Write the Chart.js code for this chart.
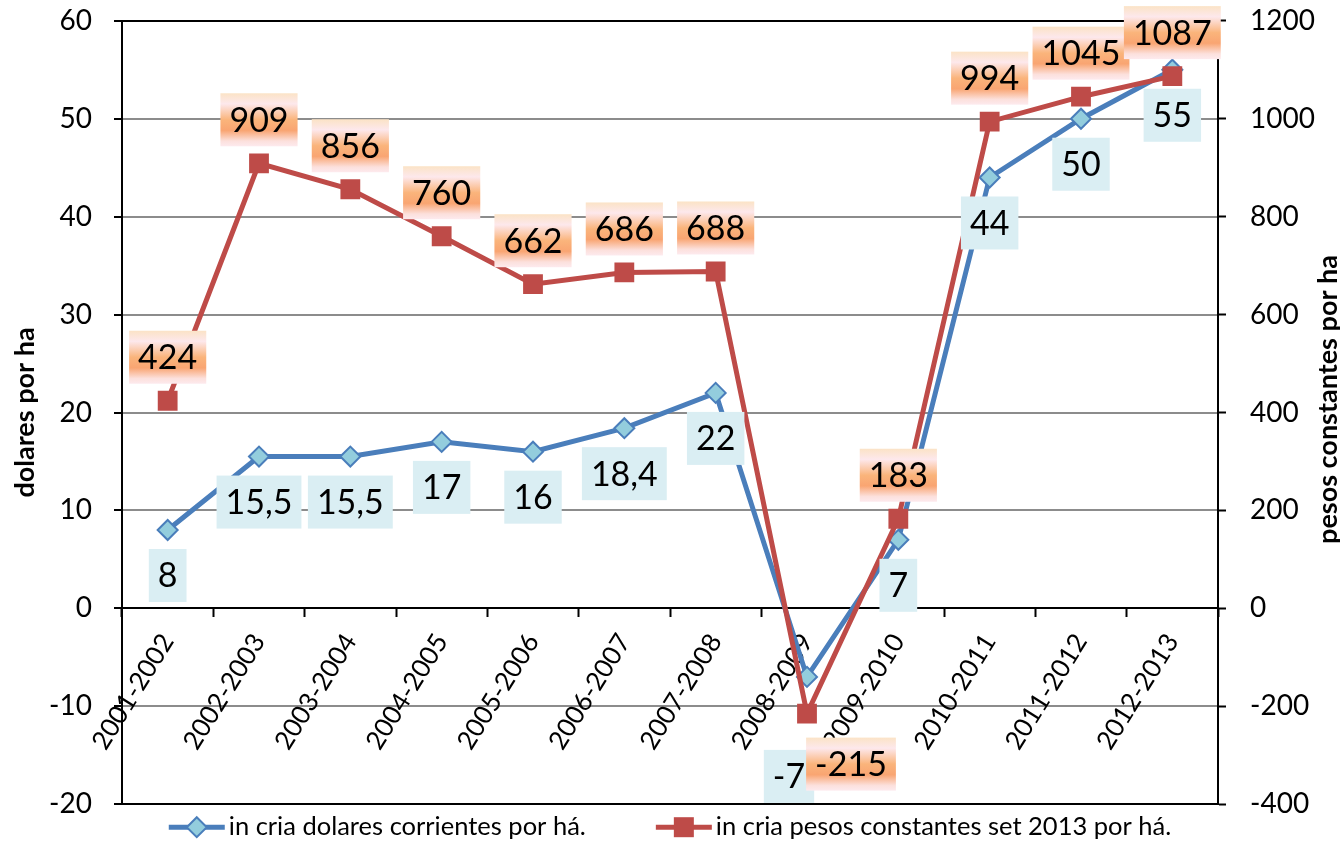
<!DOCTYPE html>
<html>
<head>
<meta charset="utf-8">
<script src="https://cdn.jsdelivr.net/npm/chart.js@4.4.1/dist/chart.umd.min.js"></script>
<style>
  html, body { margin: 0; padding: 0; background: #fff; overflow: hidden; }
  #grafico { display: block; margin-top: -20px; }
</style>
</head>
<body>
<canvas id="grafico" width="1340" height="865"></canvas>
<script>
// Datos
const campanas = ['2001-2002', '2002-2003', '2003-2004', '2004-2005', '2005-2006', '2006-2007',
  '2007-2008', '2008-2009', '2009-2010', '2010-2011', '2011-2012', '2012-2013'];
const dolaresHa = [8, 15.5, 15.5, 17, 16, 18.4, 22, -7, 7, 44, 50, 55];
const pesosHa = [424, 909, 856, 760, 662, 686, 688, -215, 183, 994, 1045, 1087];
const ticksDolares = [-20, -10, 0, 10, 20, 30, 40, 50, 60];
const ticksPesos = [-400, -200, 0, 200, 400, 600, 800, 1000, 1200];

const leyendas = ['in cria dolares corrientes por há.', 'in cria pesos constantes set 2013 por há.'];
const titulos = ['dolares por ha', 'pesos constantes por ha'];

// corrimientos manuales de algunas etiquetas (serie -> indice -> [dx, dy])
const AJUSTES = [{ 7: [-18, 54] }, { 7: [44, 94] }];

const AZUL = '#4A7EBB', AZUL_CLARO = '#93CDDD', ROJO = '#BE4B48';
const FUENTE = 'Lato, "Open Sans", sans-serif';

// Marcadores de la leyenda
function marcador(ctx, tipo, x, y) {
  ctx.beginPath();
  if (tipo === 'rombo') {
    ctx.moveTo(x, y - 10); ctx.lineTo(x + 10, y); ctx.lineTo(x, y + 10); ctx.lineTo(x - 10, y);
    ctx.closePath();
    ctx.fillStyle = AZUL_CLARO; ctx.fill();
    ctx.lineWidth = 2; ctx.strokeStyle = AZUL; ctx.stroke();
  } else {
    ctx.rect(x - 10, y - 10, 20, 20);
    ctx.fillStyle = ROJO; ctx.fill();
  }
}

// Etiquetas de datos, titulos de ejes y leyenda
const extras = {
  id: 'extras',
  afterDraw(chart) {
    const ctx = chart.ctx;
    const a = chart.chartArea;
    ctx.save();
    ctx.font = '34px ' + FUENTE;
    ctx.textAlign = 'center';
    ctx.textBaseline = 'middle';
    chart.data.datasets.forEach((ds, i) => {
      const meta = chart.getDatasetMeta(i);
      meta.data.forEach((pt, j) => {
        const txt = String(ds.data[j]).replace('.', ',');
        const w = ctx.measureText(txt).width + 18, h = 53;
        const aj = AJUSTES[i][j] || [0, 0];
        const cx = pt.x + aj[0];
        const top = (i === 0 ? pt.y + 19 : pt.y - 17 - h) + aj[1];
        if (!isFinite(cx) || !isFinite(top)) return;
        if (i === 0) {
          ctx.fillStyle = '#DAEEF3';
        } else {
          const g = ctx.createLinearGradient(0, top, 0, top + h);
          g.addColorStop(0, '#FBE3C6');
          g.addColorStop(0.2, '#FDE8EC');
          g.addColorStop(0.5, '#FAB47B');
          g.addColorStop(0.7, '#F9A572');
          g.addColorStop(0.9, '#FCE0DC');
          g.addColorStop(1, '#FDEAEE');
          ctx.fillStyle = g;
        }
        ctx.fillRect(cx - w / 2, top, w, h);
        ctx.fillStyle = '#000';
        ctx.fillText(txt, cx, top + h / 2 + 1);
      });
    });

    // titulos de ejes
    ctx.font = 'bold 27px ' + FUENTE;
    const cy = (a.top + a.bottom) / 2;
    [[25, cy], [1328, cy - 13]].forEach(([x, y], k) => {
      ctx.save();
      ctx.translate(x, y);
      ctx.rotate(-Math.PI / 2);
      ctx.fillText(titulos[k], 0, 0);
      ctx.restore();
    });

    // leyenda
    ctx.font = '25.5px ' + FUENTE;
    ctx.textAlign = 'left';
    const linea = 56, sep = 4, hueco = 70, y = a.bottom + 23;
    const anchos = leyendas.map(t => linea + sep + ctx.measureText(t).width);
    let x = (chart.width - (anchos[0] + anchos[1] + hueco)) / 2;
    leyendas.forEach((t, k) => {
      ctx.strokeStyle = k === 0 ? AZUL : ROJO;
      ctx.lineWidth = 5;
      ctx.beginPath(); ctx.moveTo(x, y); ctx.lineTo(x + linea, y); ctx.stroke();
      marcador(ctx, k === 0 ? 'rombo' : 'cuadro', x + linea / 2, y);
      ctx.fillStyle = '#000';
      ctx.fillText(t, x + linea + sep, y);
      x += anchos[k] + hueco;
    });
    ctx.restore();
  }
};

const colorGrilla = ctx => [60, 0, -20].includes(ctx.tick && ctx.tick.value) ? '#000' : '#8C8C8C';

new Chart(document.getElementById('grafico'), {
  type: 'line',
  data: {
    labels: campanas,
    datasets: [
      {
        label: leyendas[0], data: dolaresHa, yAxisID: 'y', order: 2,
        borderColor: AZUL, borderWidth: 5, tension: 0,
        pointStyle: 'rectRot', pointRadius: 10, pointBackgroundColor: AZUL_CLARO,
        pointBorderColor: AZUL, pointBorderWidth: 2
      },
      {
        label: leyendas[1], data: pesosHa, yAxisID: 'y1', order: 1,
        borderColor: ROJO, borderWidth: 5, tension: 0,
        pointStyle: 'rect', pointRadius: 14, pointBackgroundColor: ROJO,
        pointBorderColor: ROJO, pointBorderWidth: 0
      }
    ]
  },
  options: {
    responsive: false,
    animation: false,
    devicePixelRatio: 1,
    layout: { padding: { top: 0, bottom: 36 } },
    plugins: {
      legend: { display: false },
      tooltip: { enabled: false }
    },
    scales: {
      x: {
        position: { y: 0 },
        offset: true,
        grid: { offset: true, drawOnChartArea: false, drawTicks: true, tickLength: 8, tickColor: '#000', tickWidth: 2 },
        border: { display: true, color: '#000', width: 2 },
        ticks: { autoSkip: false, minRotation: 58, maxRotation: 58, padding: 12, color: '#000',
          font: { family: FUENTE, size: 26 } }
      },
      y: {
        position: 'left',
        min: ticksDolares[0], max: ticksDolares[ticksDolares.length - 1],
        afterBuildTicks: s => { s.ticks = ticksDolares.map(v => ({ value: v })); },
        afterFit: s => { s.width = 122; },
        grid: { color: colorGrilla, lineWidth: 2, tickLength: 8, tickColor: '#000', tickWidth: 2 },
        border: { display: true, color: '#000', width: 2 },
        ticks: { padding: 22, color: '#000', font: { family: FUENTE, size: 28 }, callback: v => String(v) }
      },
      y1: {
        position: 'right',
        min: ticksPesos[0], max: ticksPesos[ticksPesos.length - 1],
        afterBuildTicks: s => { s.ticks = ticksPesos.map(v => ({ value: v })); },
        afterFit: s => { s.width = 122; },
        grid: { drawOnChartArea: false, tickLength: 8, tickColor: '#000', tickWidth: 2 },
        border: { display: true, color: '#000', width: 2 },
        ticks: { padding: 24, color: '#000', font: { family: FUENTE, size: 28 }, callback: v => String(v) }
      }
    }
  },
  plugins: [extras]
});
</script>
</body>
</html>
